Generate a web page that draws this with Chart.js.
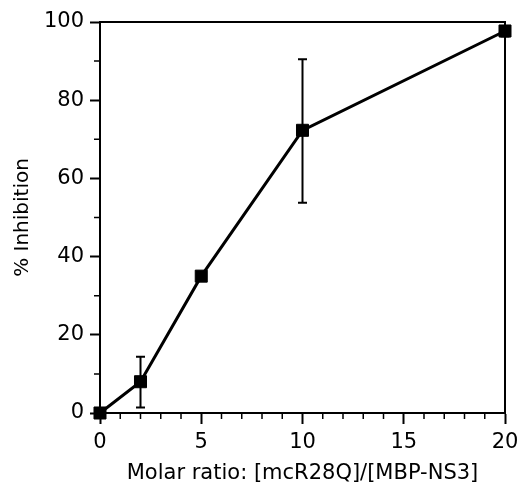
<!DOCTYPE html>
<html><head><meta charset="utf-8">
<script src="https://cdn.jsdelivr.net/npm/chart.js@4"></script>
<style>html,body{margin:0;padding:0;background:#fff}#wrap{width:521px;height:484px}</style>
</head><body><div id="wrap"><canvas id="c" width="521" height="484"></canvas></div>
<script>
const xValues = [0, 2, 5, 10, 20];
const yValues = [0, 8, 35, 72.3, 97.7];
const errLow  = [0, 1.4, 33.8, 53.8, 96.3];
const errHigh = [0, 14.4, 36.0, 90.5, 99.0];
const xTicks = [0, 5, 10, 15, 20];
const yTicks = [0, 20, 40, 60, 80, 100];
const xMinor = [1,2,3,4,6,7,8,9,11,12,13,14,16,17,18,19];
const yMinor = [10,30,50,70,90];

const points = xValues.map((x, i) => ({x: x, y: yValues[i]}));

const extras = {
  id: 'extras',
  beforeDatasetsDraw(chart) {
    const ctx = chart.ctx, xs = chart.scales.x, ys = chart.scales.y, a = chart.chartArea;
    ctx.save();
    ctx.strokeStyle = '#000';
    ctx.lineWidth = 2;
    ctx.beginPath();
    ctx.moveTo(a.left, a.top); ctx.lineTo(a.right, a.top); ctx.lineTo(a.right, a.bottom);
    ctx.stroke();
    ctx.lineWidth = 1.5;
    ctx.beginPath();
    xMinor.forEach(v => { const p = xs.getPixelForValue(v); ctx.moveTo(p, a.bottom); ctx.lineTo(p, a.bottom + 6); });
    yMinor.forEach(v => { const p = ys.getPixelForValue(v); ctx.moveTo(a.left, p); ctx.lineTo(a.left - 6, p); });
    ctx.stroke();
    ctx.restore();
  },
  afterDatasetsDraw(chart) {
    const ctx = chart.ctx, xs = chart.scales.x, ys = chart.scales.y;
    ctx.save();
    ctx.strokeStyle = '#000';
    ctx.lineWidth = 2;
    xValues.forEach((x, i) => {
      if (errHigh[i] - errLow[i] <= 0) return;
      const px = xs.getPixelForValue(x);
      const lo = ys.getPixelForValue(errLow[i]), hi = ys.getPixelForValue(errHigh[i]);
      ctx.beginPath();
      ctx.moveTo(px, lo); ctx.lineTo(px, hi);
      ctx.moveTo(px - 4.5, lo); ctx.lineTo(px + 4.5, lo);
      ctx.moveTo(px - 4.5, hi); ctx.lineTo(px + 4.5, hi);
      ctx.stroke();
    });
    ctx.restore();
  }
};

new Chart(document.getElementById('c'), {
  type: 'scatter',
  data: { datasets: [{
    data: points,
    showLine: true,
    clip: false,
    borderColor: '#000',
    backgroundColor: '#000',
    borderWidth: 3,
    pointStyle: 'rect',
    pointRadius: 8.5,
    pointBorderWidth: 1,
    pointBackgroundColor: '#000',
    pointBorderColor: '#000',
    tension: 0
  }]},
  options: {
    responsive: false,
    animation: false,
    layout: { padding: { left: 11, right: 16, top: 22, bottom: 0 } },
    plugins: { legend: { display: false }, tooltip: { enabled: false } },
    scales: {
      x: {
        type: 'linear', min: 0, max: 20,
        afterBuildTicks: s => { s.ticks = xTicks.map(v => ({value: v})); },
        afterFit: s => { s.height = 71; s.paddingRight = 0; s.paddingLeft = 0; },
        grid: { drawOnChartArea: false, tickLength: 11, tickWidth: 2, tickColor: '#000' },
        border: { color: '#000', width: 2 },
        ticks: { color: '#000', font: { family: 'DejaVu Sans', size: 21 }, padding: 6, maxRotation: 0 },
        title: { display: true, text: 'Molar ratio: [mcR28Q]/[MBP-NS3]', color: '#000',
                 font: { family: 'DejaVu Sans', size: 21, lineHeight: 1.0 }, padding: { top: 0, bottom: 0 } }
      },
      y: {
        type: 'linear', min: 0, max: 100,
        afterBuildTicks: s => { s.ticks = yTicks.map(v => ({value: v})); },
        afterFit: s => { s.width = 89; s.paddingTop = 0; s.paddingBottom = 0; },
        grid: { drawOnChartArea: false, tickLength: 10, tickWidth: 2, tickColor: '#000' },
        border: { color: '#000', width: 2 },
        ticks: { color: '#000', font: { family: 'DejaVu Sans', size: 21 }, padding: 6 },
        title: { display: true, text: '% Inhibition', color: '#000',
                 font: { family: 'DejaVu Sans', size: 20 }, padding: { top: 0, bottom: 0 } }
      }
    }
  },
  plugins: [extras]
});
</script></body></html>
